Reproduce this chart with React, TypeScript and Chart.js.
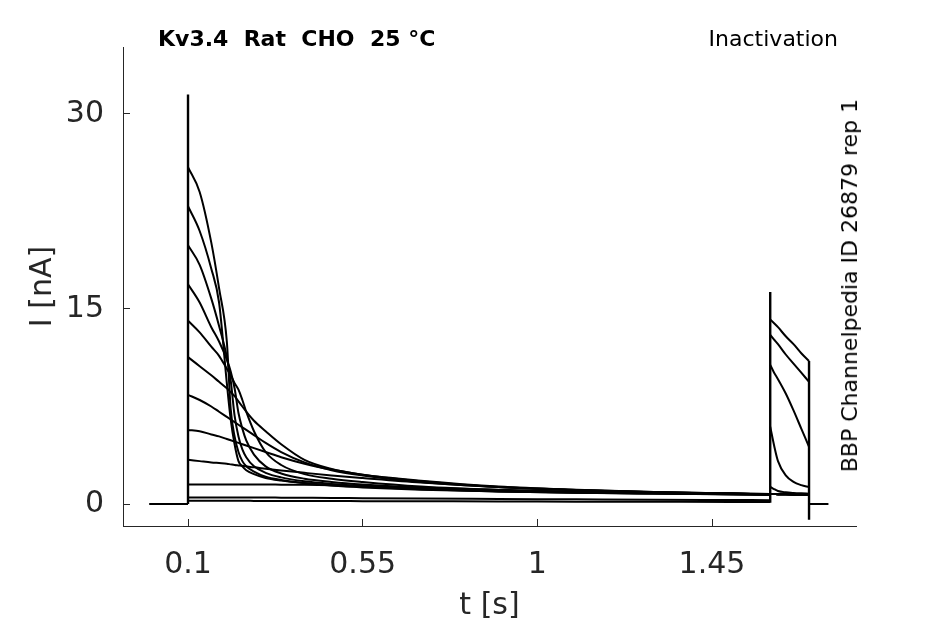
import React, { useEffect, useRef } from "react";
import { Chart, registerables } from "chart.js";

Chart.register(...registerables);

// time bases of the protocol (s)
const holdTimes = [0, 0.1];
const prepulseTimes = [0.1, 0.13, 0.16, 0.18, 0.2, 0.21, 0.22, 0.23, 0.24, 0.25, 0.27, 0.3, 0.34, 0.4, 0.47, 0.55, 0.7, 0.9, 1.1, 1.3, 1.5, 1.6];
const testTimes = [1.6, 1.61, 1.62, 1.64, 1.66, 1.68, 1.7];
const tailTimes = [1.7, 1.75];

// currents (nA)
const holdCurrent = [0, 0];
const tailCurrent = [0, 0];

// prepulse currents, highest prepulse first
const prepulse1 = [25.9, 24.0, 20.1, 16.6, 12.5, 7.3, 5.2, 4.0, 3.3, 2.9, 2.5, 2.1, 1.85, 1.62, 1.45, 1.32, 1.13, 0.97, 0.87, 0.8, 0.75, 0.72];
const prepulse2 = [22.9, 21.0, 18.1, 15.5, 9.3, 6.5, 4.6, 3.3, 2.9, 2.6, 2.3, 2.0, 1.8, 1.6, 1.42, 1.28, 1.1, 0.96, 0.86, 0.8, 0.75, 0.72];
const prepulse3 = [19.9, 18.4, 15.8, 13.7, 11.3, 9.5, 6.8, 5.2, 4.2, 3.6, 2.9, 2.4, 2.05, 1.75, 1.55, 1.4, 1.17, 0.99, 0.88, 0.81, 0.76, 0.73];
const prepulse4 = [16.9, 15.5, 13.6, 12.5, 11.1, 10.2, 8.9, 7.0, 5.8, 4.9, 3.8, 2.9, 2.35, 1.95, 1.7, 1.5, 1.24, 1.03, 0.9, 0.82, 0.76, 0.73];
const prepulse5 = [14.1, 13.2, 12.1, 11.4, 10.4, 9.9, 9.3, 8.8, 8.0, 7.1, 5.6, 4.0, 3.0, 2.3, 1.95, 1.7, 1.35, 1.08, 0.93, 0.84, 0.77, 0.74];
const prepulse6 = [11.3, 10.6, 9.9, 9.4, 8.9, 8.6, 8.3, 7.9, 7.5, 7.1, 6.4, 5.6, 4.6, 3.4, 2.7, 2.25, 1.75, 1.3, 1.05, 0.9, 0.8, 0.75];
const prepulse7 = [8.4, 8.0, 7.5, 7.1, 6.7, 6.5, 6.3, 6.1, 5.9, 5.7, 5.3, 4.7, 4.0, 3.2, 2.6, 2.2, 1.7, 1.3, 1.05, 0.9, 0.8, 0.75];
const prepulse8 = [5.7, 5.6, 5.35, 5.2, 5.0, 4.9, 4.8, 4.7, 4.6, 4.5, 4.3, 4.0, 3.6, 3.1, 2.65, 2.25, 1.8, 1.35, 1.1, 0.92, 0.82, 0.77];
const prepulse9 = [3.4, 3.3, 3.2, 3.15, 3.1, 3.05, 3.0, 2.97, 2.94, 2.9, 2.82, 2.72, 2.58, 2.4, 2.2, 2.0, 1.65, 1.3, 1.08, 0.92, 0.82, 0.77];
const prepulse10 = [1.5, 1.5, 1.5, 1.5, 1.5, 1.5, 1.5, 1.5, 1.5, 1.5, 1.5, 1.5, 1.49, 1.48, 1.45, 1.4, 1.28, 1.1, 0.95, 0.85, 0.78, 0.74];
const prepulse11 = [0.5, 0.5, 0.5, 0.5, 0.5, 0.5, 0.5, 0.5, 0.5, 0.5, 0.5, 0.5, 0.49, 0.48, 0.47, 0.45, 0.42, 0.39, 0.36, 0.33, 0.31, 0.3];
const prepulse12 = [0.25, 0.25, 0.25, 0.25, 0.25, 0.25, 0.25, 0.25, 0.25, 0.25, 0.24, 0.24, 0.24, 0.23, 0.23, 0.22, 0.21, 0.2, 0.18, 0.17, 0.16, 0.15];

// test pulse currents
const inactivatedTest = [0.78, 0.77, 0.76, 0.75, 0.74, 0.73, 0.72];
const test8 = [1.33, 1.15, 1.0, 0.9, 0.85, 0.82, 0.8];
const test9 = [5.95, 4.5, 3.3, 2.2, 1.7, 1.45, 1.3];
const test10 = [10.7, 10.1, 9.6, 8.5, 7.2, 5.8, 4.4];
const test11 = [13.0, 12.65, 12.3, 11.5, 10.8, 10.1, 9.4];
const test12 = [14.2, 13.9, 13.6, 12.9, 12.3, 11.6, 11.0];

// capacitive transients at the voltage steps
const transientTimes = [0.1, 1.6, 1.7];
const transientFrom = [0, 0.1, 11.0];
const transientTo = [31.5, 16.3, -1.2];

const xTicks = [0.1, 0.55, 1, 1.45];
const yTicks = [0, 15, 30];

const sweeps = [
  [prepulse1, inactivatedTest],
  [prepulse2, inactivatedTest],
  [prepulse3, inactivatedTest],
  [prepulse4, inactivatedTest],
  [prepulse5, inactivatedTest],
  [prepulse6, inactivatedTest],
  [prepulse7, inactivatedTest],
  [prepulse8, test8],
  [prepulse9, test9],
  [prepulse10, test10],
  [prepulse11, test11],
  [prepulse12, test12],
];

const FONT = "DejaVu Sans";
const AXIS = "#262626";

const toPoints = (xs: number[], ys: number[]) => xs.map((x, i) => ({ x, y: ys[i] }));

const trace = (data: { x: number; y: number | null }[], smooth: boolean, width = 2) => ({
  data,
  borderColor: "#000",
  borderWidth: width,
  pointRadius: 0,
  tension: 0,
  spanGaps: false,
  ...(smooth ? { cubicInterpolationMode: "monotone" as const } : {}),
});

export default function App() {
  const canvasRef = useRef<HTMLCanvasElement>(null);
  const chartRef = useRef<Chart | null>(null);

  useEffect(() => {
    if (!canvasRef.current) return;
    if (chartRef.current) chartRef.current.destroy();

    const prepulseSets = sweeps.map(([pre]) => trace(toPoints(prepulseTimes, pre), true));
    const testSets = sweeps.map(([, test]) => trace(toPoints(testTimes, test), true));

    const transientData: { x: number; y: number | null }[] = [];
    transientTimes.forEach((t, i) => {
      transientData.push({ x: t, y: transientFrom[i] }, { x: t, y: transientTo[i] }, { x: t, y: null });
    });

    chartRef.current = new Chart(canvasRef.current, {
      type: "line",
      data: {
        datasets: [
          trace(toPoints(holdTimes, holdCurrent), false),
          ...prepulseSets,
          ...testSets,
          trace(toPoints(tailTimes, tailCurrent), false),
          trace(transientData, false, 2.4),
        ] as any,
      },
      options: {
        animation: false,
        responsive: true,
        maintainAspectRatio: false,
        layout: { padding: { top: 47, right: 89, left: 0, bottom: 0 } },
        plugins: { legend: { display: false }, tooltip: { enabled: false } },
        scales: {
          x: {
            type: "linear",
            min: -0.0675,
            max: 1.821,
            afterBuildTicks: (s: any) => {
              s.ticks = xTicks.map((v) => ({ value: v }));
            },
            afterFit: (s: any) => {
              s.height = 98;
            },
            ticks: {
              callback: (v: any) => String(v),
              font: { family: FONT, size: 30 },
              color: AXIS,
              padding: 28,
              maxRotation: 0,
              autoSkip: false,
            },
            grid: { drawOnChartArea: false, tickLength: -7, color: AXIS, lineWidth: 1 },
            border: { color: AXIS, width: 1 },
            title: {
              display: true,
              text: "t [s]",
              font: { family: FONT, size: 30 },
              color: AXIS,
              padding: { top: 0, bottom: 0 },
            },
          },
          y: {
            type: "linear",
            min: -1.69,
            max: 35.15,
            afterBuildTicks: (s: any) => {
              s.ticks = yTicks.map((v) => ({ value: v }));
            },
            afterFit: (s: any) => {
              s.width = 123;
            },
            ticks: {
              callback: (v: any) => String(v),
              font: { family: FONT, size: 30 },
              color: AXIS,
              padding: 26,
            },
            grid: { drawOnChartArea: false, tickLength: -7, color: AXIS, lineWidth: 1 },
            border: { color: AXIS, width: 1 },
            title: {
              display: true,
              text: "I [nA]",
              font: { family: FONT, size: 30 },
              color: AXIS,
              padding: { top: 25, bottom: 0 },
            },
          },
        },
      },
    });

    return () => {
      if (chartRef.current) {
        chartRef.current.destroy();
        chartRef.current = null;
      }
    };
  }, []);

  return (
    <div style={{ position: "fixed", left: 0, top: 0, width: 945, height: 624, background: "#fff", fontFamily: FONT }}>
      <canvas ref={canvasRef}></canvas>
      <div
        style={{
          position: "absolute",
          left: 158,
          top: 27,
          fontSize: 22,
          lineHeight: "24px",
          fontWeight: "bold",
          color: "#000",
          whiteSpace: "pre",
        }}
      >
        {"Kv3.4  Rat  CHO  25 °C"}
      </div>
      <div
        style={{
          position: "absolute",
          right: 107,
          top: 27,
          fontSize: 22,
          lineHeight: "24px",
          color: "#000",
          whiteSpace: "pre",
        }}
      >
        Inactivation
      </div>
      <div
        style={{
          position: "absolute",
          left: 838,
          top: 99,
          fontSize: 22,
          lineHeight: "24px",
          color: "#000",
          whiteSpace: "pre",
          writingMode: "vertical-rl",
          transform: "rotate(180deg)",
        }}
      >
        BBP Channelpedia ID 26879 rep 1
      </div>
    </div>
  );
}
